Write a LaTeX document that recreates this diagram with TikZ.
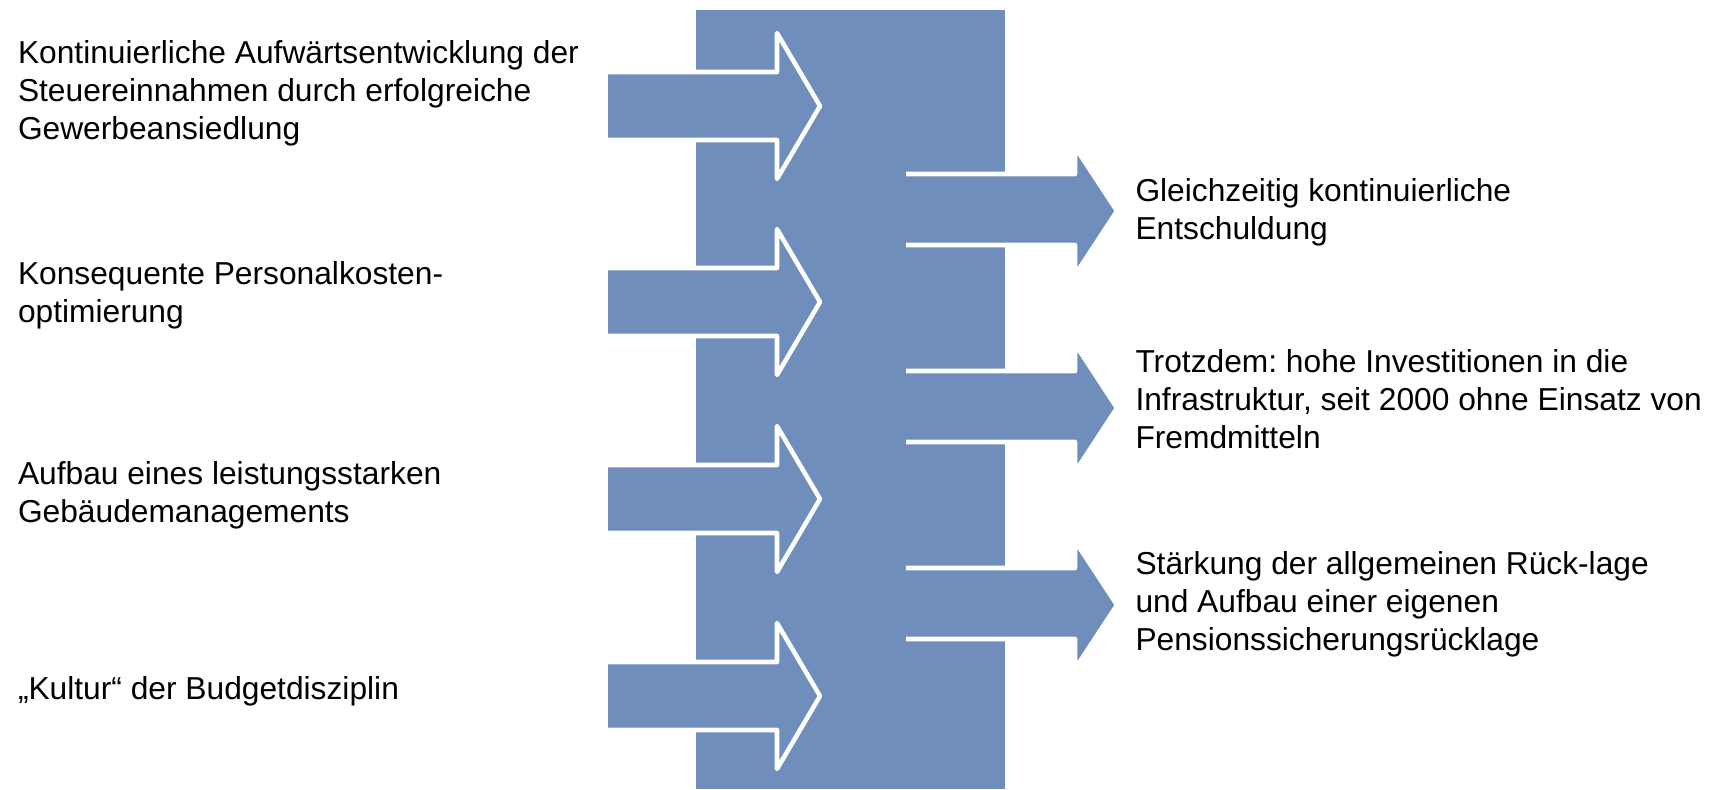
\documentclass[tikz,border=0pt]{standalone}
\usepackage{fontspec}
\setmainfont{Liberation Sans}
\usetikzlibrary{positioning}
\frenchspacing
\definecolor{blockblue}{RGB}{111,142,187}
\tikzset{every picture/.style={line width=0.75pt}}
\tikzset{
  blockfill/.style={fill=blockblue, draw=none},
  blockedge/.style={draw=white, line width=3.4pt, line join=round},
  textblock/.style={anchor=west, inner sep=0pt, align=left, font=\fontsize{23.8}{28.4}\selectfont},
}
\begin{document}
\begin{tikzpicture}[x=0.75pt,y=0.75pt,yscale=-1,xscale=1]

\useasboundingbox (0,0) rectangle (1716,789);

%Shape: Rectangle
\fill [blockfill] (696,10) rectangle (1005,789);

%Shape: Right Arrow (left 1)
\draw [blockfill] (608,72) -- (777,72) -- (777,33) -- (820,106) -- (777,179) -- (777,140) -- (608,140) -- cycle ;
\draw [blockedge] (608,72) -- (777,72) -- (777,33) -- (820,106) -- (777,179) -- (777,140) -- (608,140) ;
%Shape: Right Arrow (left 2)
\draw [blockfill] (608,268) -- (777,268) -- (777,229) -- (820,302) -- (777,375) -- (777,336) -- (608,336) -- cycle ;
\draw [blockedge] (608,268) -- (777,268) -- (777,229) -- (820,302) -- (777,375) -- (777,336) -- (608,336) ;
%Shape: Right Arrow (left 3)
\draw [blockfill] (608,465) -- (777,465) -- (777,426) -- (820,499) -- (777,572) -- (777,533) -- (608,533) -- cycle ;
\draw [blockedge] (608,465) -- (777,465) -- (777,426) -- (820,499) -- (777,572) -- (777,533) -- (608,533) ;
%Shape: Right Arrow (left 4)
\draw [blockfill] (608,662) -- (777,662) -- (777,623) -- (820,696) -- (777,769) -- (777,730) -- (608,730) -- cycle ;
\draw [blockedge] (608,662) -- (777,662) -- (777,623) -- (820,696) -- (777,769) -- (777,730) -- (608,730) ;

%Shape: Right Arrow (right 1)
\draw [blockfill] (906,174) -- (1075,174) -- (1075,147) -- (1117,211) -- (1075,275) -- (1075,245) -- (906,245) -- cycle ;
\draw [blockedge] (906,174) -- (1075,174) -- (1075,147) -- (1117,211) -- (1075,275) -- (1075,245) -- (906,245) ;
%Shape: Right Arrow (right 2)
\draw [blockfill] (906,371) -- (1075,371) -- (1075,344) -- (1117,408) -- (1075,472) -- (1075,442) -- (906,442) -- cycle ;
\draw [blockedge] (906,371) -- (1075,371) -- (1075,344) -- (1117,408) -- (1075,472) -- (1075,442) -- (906,442) ;
%Shape: Right Arrow (right 3)
\draw [blockfill] (906,568) -- (1075,568) -- (1075,541) -- (1117,605) -- (1075,669) -- (1075,639) -- (906,639) -- cycle ;
\draw [blockedge] (906,568) -- (1075,568) -- (1075,541) -- (1117,605) -- (1075,669) -- (1075,639) -- (906,639) ;

% Text Node
\node [textblock] (steuer) at (17.5,93) {Kontinuierliche Aufwärtsentwicklung der\\Steuereinnahmen durch erfolgreiche\\Gewerbeansiedlung};
% Text Node
\node [textblock] (personal) at (17.5,295.5) {Konsequente Personalkosten-\\optimierung};
% Text Node
\node [textblock] (gebaeude) at (17.5,495) {Aufbau eines leistungsstarken\\Gebäudemanagements};
% Text Node
\node [textblock] (kultur) at (17.5,691.7) {„Kultur“ der Budgetdisziplin};
% Text Node
\node [textblock] (entschuldung) at (1135,212) {Gleichzeitig kontinuierliche\\Entschuldung};
% Text Node
\node [textblock] (invest) at (1135,399.5) {Trotzdem: hohe Investitionen in die\\Infrastruktur, seit 2000 ohne Einsatz von\\Fremdmitteln};
% Text Node
\node [textblock] (ruecklage) at (1135,604) {Stärkung der allgemeinen Rück-lage\\und Aufbau einer eigenen\\Pensionssicherungsrücklage};

\end{tikzpicture}
\end{document}
